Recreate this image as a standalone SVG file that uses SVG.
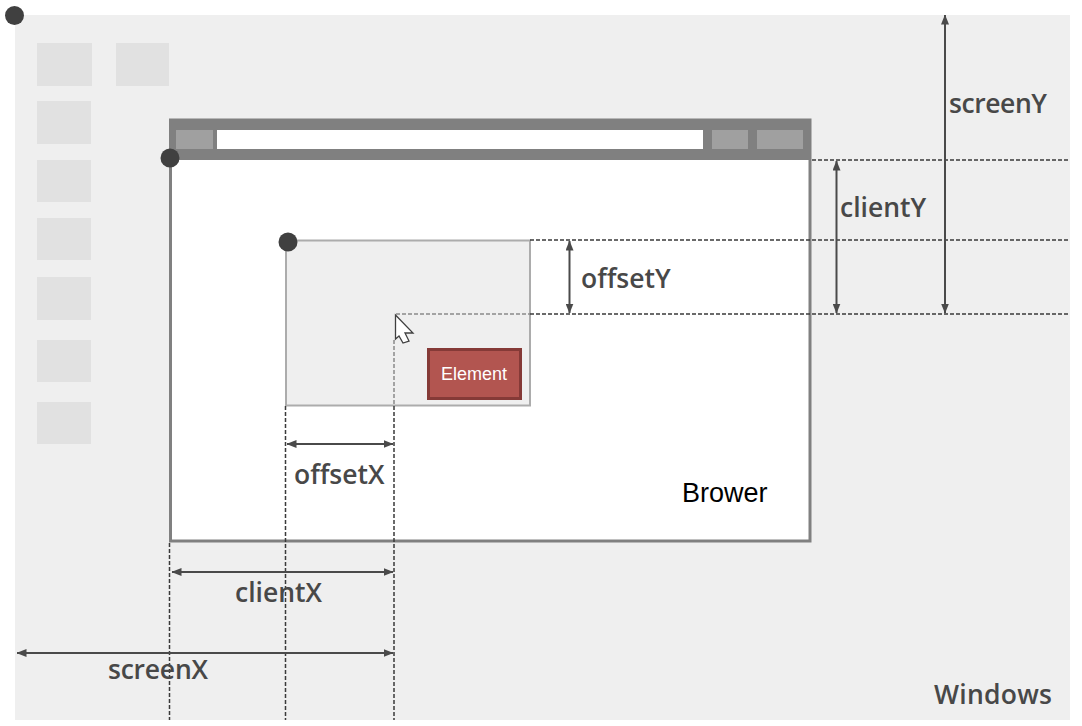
<svg xmlns="http://www.w3.org/2000/svg" width="1082" height="726" viewBox="0 0 1082 726">
<defs>
<marker id="ah" viewBox="0 0 10 8" refX="9.5" refY="4" markerWidth="10" markerHeight="8" markerUnits="userSpaceOnUse" orient="auto-start-reverse"><path d="M0 0L10 4L0 8Z" fill="#4a4a4a"/></marker>
</defs>
<style>
.icon{fill:#e1e1e1}
.tb{fill:#a0a0a0}
.dash{stroke:#3a3a3a;stroke-width:1.5;stroke-dasharray:4 2;fill:none}
.soft{stroke:#8a8a8a}
.dim{stroke:#4a4a4a;stroke-width:2;fill:none;marker-start:url(#ah);marker-end:url(#ah)}
.lbl{font-family:"Open Sans","Noto Sans",sans-serif;font-size:26.5px;font-weight:600;fill:#484848}
.dot{fill:#404040}
</style>
<rect width="1082" height="726" fill="#fff"/>
<g id="windows">
<rect x="15" y="15" width="1055" height="705" fill="#efefef"/>
<rect class="icon" x="37" y="43" width="55" height="43"/>
<rect class="icon" x="116" y="43" width="53" height="43"/>
<rect class="icon" x="37" y="101" width="54" height="43"/>
<rect class="icon" x="37" y="160" width="54" height="42"/>
<rect class="icon" x="37" y="218" width="54" height="42"/>
<rect class="icon" x="37" y="277" width="54" height="43"/>
<rect class="icon" x="37" y="340" width="54" height="42"/>
<rect class="icon" x="37" y="402" width="54" height="42"/>
<text class="lbl" x="934" y="704" textLength="118">Windows</text>
<circle class="dot" cx="14.500" cy="15.500" r="9.500"/>
</g>
<g id="browser">
<rect x="170.500" y="120" width="639.500" height="421" fill="#fff" stroke="#808080" stroke-width="3"/>
<rect x="169" y="119" width="642" height="41" fill="#808080"/>
<rect class="tb" x="176" y="130" width="37" height="19"/>
<rect x="217" y="130" width="486" height="19" fill="#fff"/>
<rect class="tb" x="712" y="130" width="36" height="19"/>
<rect class="tb" x="757" y="130" width="46" height="19"/>
<text x="682" y="502" font-family="'Liberation Sans',Arial,sans-serif" font-size="27" fill="#000">Brower</text>
<circle class="dot" cx="170" cy="158" r="9.500"/>
</g>
<g id="offset-parent">
<rect x="286" y="240.500" width="244" height="165" fill="#efefef" stroke="#acacac" stroke-width="2"/>
</g>
<g id="element">
<rect x="428.500" y="349.500" width="92" height="49" fill="#b25550" stroke="#853a37" stroke-width="3"/>
<text x="474" y="380" text-anchor="middle" font-family="'Liberation Sans',Arial,sans-serif" font-size="18" fill="#fff">Element</text>
</g>
<g id="connectors">
<path class="dash" d="M812 160H1069M530 240H1069M530 314H1069"/>
<path class="dash soft" d="M396 314H530M394 340V405"/>
<path class="dash" d="M169.500 543V720M285.500 406V720M394 406V720"/>
<path class="dim" d="M945 15V313"/>
<path class="dim" d="M836.500 161V313"/>
<path class="dim" d="M569.500 241V313"/>
<path class="dim" d="M287 444H393"/>
<path class="dim" d="M172 572H393"/>
<path class="dim" d="M17 653H393"/>
</g>
<g id="labels">
<text class="lbl" x="949" y="113" textLength="98">screenY</text>
<text class="lbl" x="840" y="217">clientY</text>
<text class="lbl" x="581" y="288">offsetY</text>
<text class="lbl" x="294" y="484">offsetX</text>
<text class="lbl" x="235" y="602">clientX</text>
<text class="lbl" x="108" y="679" textLength="100">screenX</text>
</g>
<g id="pointer">
<circle class="dot" cx="288" cy="242" r="9.500"/>
<path d="M395.500 315L413 333L405 333L409 341L403 343L399 336L395.500 339Z" fill="#fff" stroke="#404040" stroke-width="1.300"/>
</g>
</svg>
